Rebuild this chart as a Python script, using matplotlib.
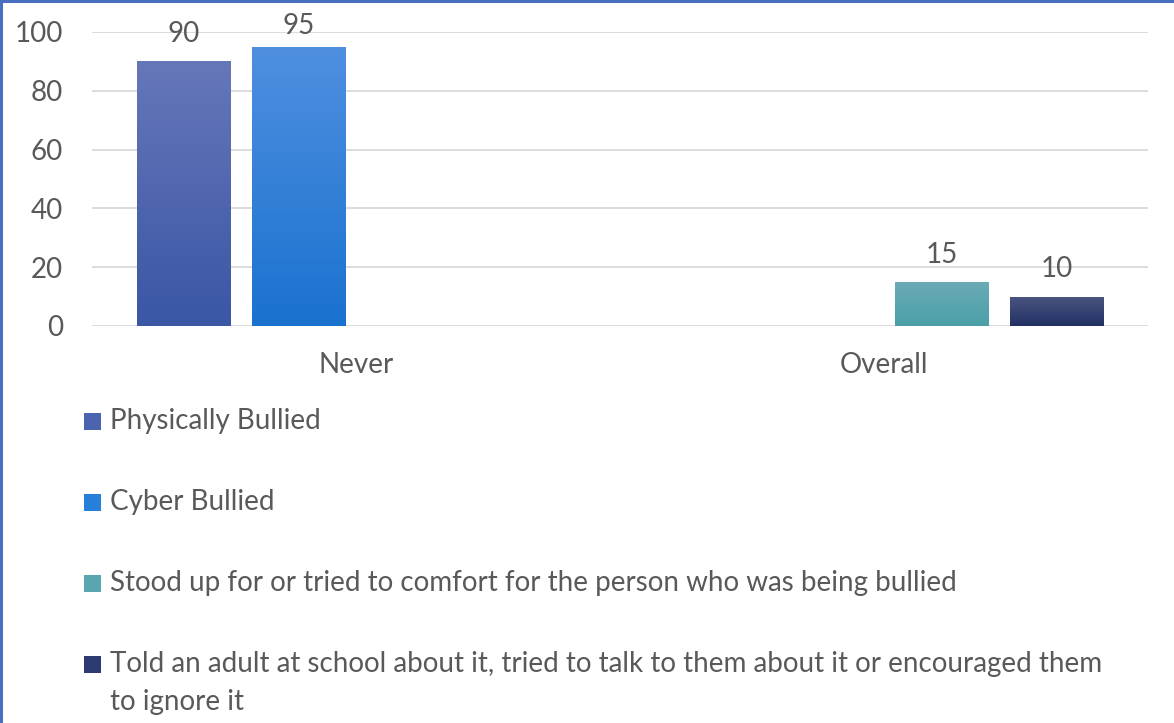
import matplotlib
matplotlib.use("Agg")
import matplotlib.pyplot as plt
import numpy as np
from matplotlib.patches import Rectangle
from matplotlib.colors import LinearSegmentedColormap
from matplotlib.lines import Line2D

categories = ["Never", "Overall"]
series_names = [
    "Physically Bullied",
    "Cyber Bullied",
    "Stood up for or tried to comfort for the person who was being bullied",
    "Told an adult at school about it, tried to talk to them about it or encouraged them\nto ignore it",
]
physically = [90, None]
cyber = [95, None]
stood_up = [None, 15]
told_adult = [None, 10]
series_values = [physically, cyber, stood_up, told_adult]
y_ticks = [0, 20, 40, 60, 80, 100]

top_colors = ["#6677b9", "#4f8fe0", "#6cabb6", "#4b5681"]
bottom_colors = ["#3a56a5", "#1a72cf", "#4aa0a8", "#213064"]
legend_colors = ["#4a64b0", "#2680da", "#5aa6b0", "#2c3a70"]

W, H = 1174, 723
fig = plt.figure(figsize=(W / 100, H / 100), dpi=100)
plt.rcParams['font.family'] = ['Lato', 'DejaVu Sans']
text_color = "#595959"
fs = 20

ax = fig.add_axes([92 / W, 1 - 326 / H, (1148 - 92) / W, (326 - 32) / H])
ax.set_xlim(-0.5, 1.5)
ax.set_ylim(0, 100)

bar_w = 93.5 / 528
step = 115 / 528
x = np.arange(len(categories))
for i, vals in enumerate(series_values):
    h = [v if v is not None else 0 for v in vals]
    bars = ax.bar(x + (i - 1.5) * step, h, width=bar_w, color=legend_colors[i], zorder=3, linewidth=0)
    cmap = LinearSegmentedColormap.from_list("g%d" % i, [bottom_colors[i], top_colors[i]])
    for b, v in zip(bars, vals):
        if v is None:
            continue
        grad = np.linspace(0, 1, 256).reshape(-1, 1)
        im = ax.imshow(grad, cmap=cmap, origin="lower", aspect="auto",
                       extent=[b.get_x(), b.get_x() + b.get_width(), 0, v], zorder=3.5)
        im.set_clip_path(b)
        ax.text(b.get_x() + b.get_width() / 2, min(v + 6.5, 99.3), str(v),
                ha="center", va="baseline", fontsize=fs, color=text_color,
                zorder=5, clip_on=False)
ax.set_xlim(-0.5, 1.5)
ax.set_ylim(0, 100)

ax.set_yticks(y_ticks)
ax.set_xticks(x)
ax.set_xticklabels(categories)
ax.grid(axis="y", color="#d9d9d9", linewidth=1.3, zorder=0)
ax.set_axisbelow(True)
for s in ax.spines.values():
    s.set_visible(False)
ax.tick_params(axis="both", length=0, labelsize=fs, labelcolor=text_color)
ax.tick_params(axis="y", pad=21)
ax.tick_params(axis="x", pad=19)

# legend
leg_base = [429, 510, 591, 672]
line_gap = 38
for i, name in enumerate(series_names):
    yb = leg_base[i]
    fig.add_artist(Rectangle((84 / W, 1 - (yb + 1) / H), 17 / W, 17 / H,
                             transform=fig.transFigure, facecolor=legend_colors[i],
                             edgecolor="none"))
    for k, line in enumerate(name.split("\n")):
        fig.text(110 / W, 1 - (yb + k * line_gap) / H, line, fontsize=fs, color=text_color,
                 ha="left", va="baseline")

# border
fig.add_artist(Line2D([1 / W, 1 / W], [0, 1], transform=fig.transFigure, color="#4a6fc0", linewidth=2.2))
fig.add_artist(Line2D([0, 1], [1 - 1 / H, 1 - 1 / H], transform=fig.transFigure, color="#4a6fc0", linewidth=2.2))

fig.savefig("out.png", dpi=100, facecolor="white")
